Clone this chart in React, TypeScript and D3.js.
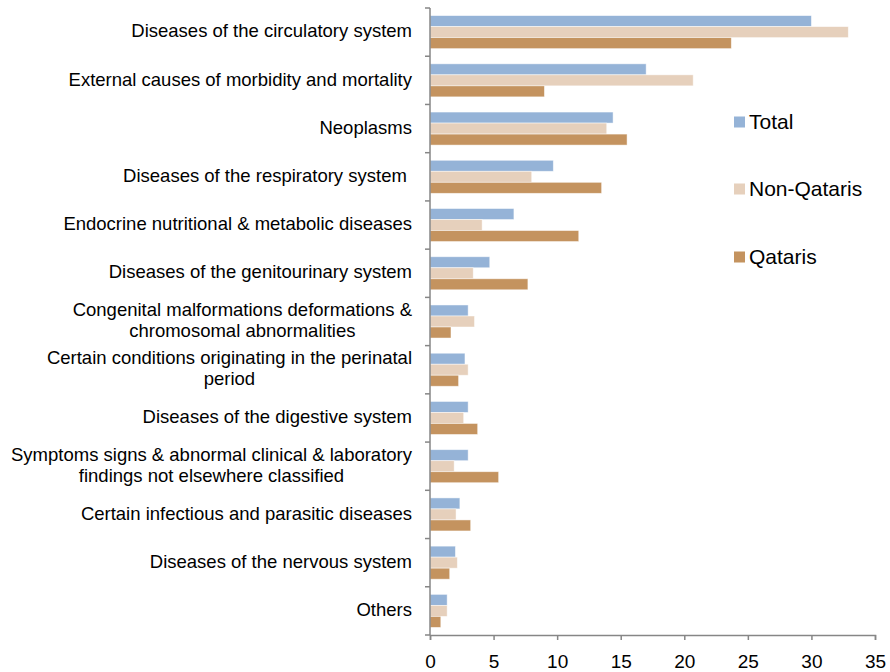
import React, { useRef, useEffect } from "react";
import * as d3 from "d3";

const categories = [
  "Diseases of the circulatory system",
  "External causes of morbidity and mortality",
  "Neoplasms",
  "Diseases of the respiratory system ",
  "Endocrine nutritional & metabolic diseases",
  "Diseases of the genitourinary system",
  "Congenital malformations deformations &|chromosomal abnormalities",
  "Certain conditions originating in the perinatal|period",
  "Diseases of the digestive system",
  "Symptoms signs & abnormal clinical & laboratory|findings not elsewhere classified",
  "Certain infectious and parasitic diseases",
  "Diseases of the nervous system",
  "Others",
];

const total = [30.0, 17.0, 14.4, 9.7, 6.6, 4.7, 3.0, 2.75, 3.0, 3.0, 2.35, 2.0, 1.35];
const nonQataris = [32.9, 20.7, 13.9, 8.0, 4.1, 3.4, 3.5, 3.0, 2.65, 1.9, 2.05, 2.15, 1.35];
const qataris = [23.7, 9.0, 15.5, 13.5, 11.7, 7.7, 1.65, 2.25, 3.75, 5.4, 3.2, 1.55, 0.85];

const seriesNames = ["Total", "Non-Qataris", "Qataris"];
const seriesColors = ["#95b3d7", "#e6d0bc", "#c4935f"];
const xTicks = [0, 5, 10, 15, 20, 25, 30, 35];

const W = 890;
const H = 672;
const M = { top: 8, right: 15, bottom: 37, left: 430 };
const FONT = "Liberation Sans, Arial, sans-serif";

const drawChart = (element: SVGSVGElement) => {
  const svg = d3.select(element);
  svg.selectAll("*").remove();

  const innerH = H - M.top - M.bottom;

  const x = d3.scaleLinear().domain([0, 35]).range([M.left, W - M.right]);
  const y = d3
    .scaleBand()
    .domain(categories.map((_, i) => String(i)))
    .range([M.top, M.top + innerH])
    .paddingInner(0)
    .paddingOuter(0);

  const inner = d3
    .scaleBand()
    .domain(seriesNames)
    .range([0, y.bandwidth()])
    .paddingInner(0)
    .paddingOuter(0.69);

  const data = [total, nonQataris, qataris];

  data.forEach((vals, s) => {
    svg
      .append("g")
      .selectAll("rect")
      .data(vals)
      .enter()
      .append("rect")
      .attr("x", x(0))
      .attr("y", (_, i) => (y(String(i)) as number) + (inner(seriesNames[s]) as number))
      .attr("width", (d) => x(d) - x(0))
      .attr("height", inner.bandwidth())
      .attr("fill", seriesColors[s])
      .attr("stroke", "#ffffff")
      .attr("stroke-opacity", 0.6)
      .attr("stroke-width", 0.8);
  });

  const axisColor = "#868686";

  // x axis
  const xAxis = svg
    .append("g")
    .attr("transform", `translate(0, ${M.top + innerH})`)
    .call(d3.axisBottom(x).tickValues(xTicks).tickSize(5).tickPadding(15));
  xAxis.select(".domain").attr("stroke", axisColor).attr("stroke-width", 1.5);
  xAxis.selectAll(".tick line").attr("stroke", axisColor).attr("stroke-width", 1.5);
  xAxis
    .selectAll(".tick text")
    .attr("fill", "#000")
    .attr("font-size", 19)
    .attr("font-family", FONT);

  // y axis line and boundary ticks
  svg
    .append("line")
    .attr("x1", x(0))
    .attr("x2", x(0))
    .attr("y1", M.top)
    .attr("y2", M.top + innerH)
    .attr("stroke", axisColor)
    .attr("stroke-width", 1.5);

  const bounds = d3.range(categories.length + 1).map((i) => M.top + i * y.step());
  svg
    .append("g")
    .selectAll("line")
    .data(bounds)
    .enter()
    .append("line")
    .attr("x1", x(0) - 5)
    .attr("x2", x(0))
    .attr("y1", (d) => d)
    .attr("y2", (d) => d)
    .attr("stroke", axisColor)
    .attr("stroke-width", 1.5);

  // category labels
  const labelRight = 412;
  const lineH = 21;
  categories.forEach((c, i) => {
    const lines = c.split("|");
    const cy = (y(String(i)) as number) + y.bandwidth() / 2;
    const g = svg.append("g");
    const texts = lines.map((l, j) =>
      g
        .append("text")
        .attr("y", cy + (j - (lines.length - 1) / 2) * lineH)
        .attr("dy", "0.28em")
        .attr("font-size", 18.5)
        .attr("font-family", FONT)
        .attr("fill", "#000")
        .style("white-space", "pre")
        .text(l)
    );
    const widths = texts.map((t) => (t.node() as SVGTextElement).getComputedTextLength());
    const maxW = d3.max(widths) as number;
    const center = labelRight - maxW / 2;
    texts.forEach((t) => t.attr("x", center).attr("text-anchor", "middle"));
  });

  // legend
  const legendY = [122, 189, 257];
  seriesNames.forEach((name, s) => {
    svg
      .append("rect")
      .attr("x", 734)
      .attr("y", legendY[s] - 5.5)
      .attr("width", 11)
      .attr("height", 11)
      .attr("fill", seriesColors[s]);
    svg
      .append("text")
      .attr("x", 749)
      .attr("y", legendY[s])
      .attr("dy", "0.35em")
      .attr("font-size", 21)
      .attr("font-family", FONT)
      .attr("fill", "#000")
      .text(name);
  });
};

const App = () => {
  const ref = useRef<SVGSVGElement>(null);

  useEffect(() => {
    document.body.style.margin = "0";
    if (ref.current) drawChart(ref.current);
  }, []);

  return <svg ref={ref} width={W} height={H} style={{ display: "block", background: "#fff" }} />;
};

export default App;
